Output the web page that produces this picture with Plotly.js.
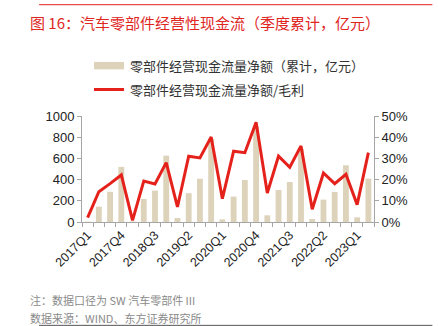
<!DOCTYPE html>
<html>
<head>
<meta charset="utf-8">
<script src="https://cdn.plot.ly/plotly-3.0.1.min.js"></script>
<style>
html,body{margin:0;padding:0;background:#fff;}
#chart{width:438px;height:326px;}
</style>
</head>
<body>
<div id="chart"></div>
<script>
// ---- data ----
const categories = [
  '2017Q1','2017Q2','2017Q3','2017Q4',
  '2018Q1','2018Q2','2018Q3','2018Q4',
  '2019Q1','2019Q2','2019Q3','2019Q4',
  '2020Q1','2020Q2','2020Q3','2020Q4',
  '2021Q1','2021Q2','2021Q3','2021Q4',
  '2022Q1','2022Q2','2022Q3','2022Q4',
  '2023Q1','2023Q2'
];
// 零部件经营现金流量净额（累计，亿元）
const cashFlow = [
  3, 145, 285, 520,
  5, 217, 296, 626,
  38, 272, 408, 785,
  25, 240, 396, 900,
  63, 302, 377, 690,
  28, 211, 283, 535,
  44, 409
];
// 零部件经营现金流量净额/毛利
const cashToGross = [
  0.021, 0.143, 0.181, 0.222,
  0.008, 0.193, 0.179, 0.280,
  0.071, 0.310, 0.302, 0.401,
  0.110, 0.334, 0.327, 0.470,
  0.137, 0.311, 0.258, 0.359,
  0.060, 0.231, 0.181, 0.225,
  0.082, 0.327
];
const tickLabels = categories.map((c, i) => (i % 3 === 0 ? c : ''));

const titleText = '图 16：汽车零部件经营性现金流（季度累计，亿元）';
const barName = '零部件经营现金流量净额（累计，亿元）';
const lineName = '零部件经营现金流量净额/毛利';
const note1 = '注：数据口径为 SW 汽车零部件 III';
const note2 = '数据来源：WIND、东方证券研究所';

const FONT = 'Liberation Sans, Arial, Noto Sans CJK SC, sans-serif';
const CJK = 'Noto Sans CJK SC, Liberation Sans, sans-serif';
const BAR_COLOR = '#ddd3bb';
const LINE_COLOR = '#e5211b';
const AXIS_COLOR = '#a6a6a6';

const traces = [
  {
    type: 'bar', x: categories, y: cashFlow, name: barName,
    marker: {color: BAR_COLOR}, yaxis: 'y', showlegend: false,
    hoverinfo: 'skip'
  },
  {
    type: 'scatter', mode: 'lines', x: categories, y: cashToGross, name: lineName,
    line: {color: LINE_COLOR, width: 3}, yaxis: 'y2', showlegend: false,
    hoverinfo: 'skip'
  }
];

const layout = {
  width: 438, height: 326,
  margin: {l: 82, r: 64, t: 116, b: 104},
  paper_bgcolor: '#fff', plot_bgcolor: '#fff',
  font: {family: FONT, size: 13, color: '#222'},
  bargap: 0.48,
  showlegend: false,
  xaxis: {
    type: 'category',
    tickmode: 'array', tickvals: categories, ticktext: tickLabels,
    tickson: 'boundaries', ticks: 'outside', ticklen: 4, tickcolor: AXIS_COLOR,
    tickangle: -45, tickfont: {size: 12.5, family: FONT, color: '#222'},
    showline: true, linecolor: AXIS_COLOR, linewidth: 1,
    showgrid: false, zeroline: false, fixedrange: true
  },
  yaxis: {
    range: [0, 1000], dtick: 200, tick0: 0,
    ticks: 'outside', ticklen: 4, tickcolor: AXIS_COLOR,
    showline: true, linecolor: AXIS_COLOR, linewidth: 1,
    showgrid: false, zeroline: false,
    tickfont: {size: 13, family: FONT, color: '#222'}
  },
  yaxis2: {
    overlaying: 'y', side: 'right',
    range: [0, 0.5], dtick: 0.1, tick0: 0, tickformat: '.0%',
    ticks: 'outside', ticklen: 4, tickcolor: AXIS_COLOR,
    showline: true, linecolor: AXIS_COLOR, linewidth: 1,
    showgrid: false, zeroline: false,
    tickfont: {size: 13, family: FONT, color: '#222'}
  },
  shapes: [
    // top red rule
    {type: 'line', xref: 'paper', yref: 'paper', x0: -0.147, x1: 1.2, y0: 2.05, y1: 2.05,
     line: {color: LINE_COLOR, width: 1}},
    // bottom gray rule
    {type: 'line', xref: 'paper', yref: 'paper', x0: -0.147, x1: 1.2, y0: -0.975, y1: -0.975,
     line: {color: '#555', width: 1}},
    // legend swatches
    {type: 'rect', xref: 'paper', yref: 'paper', x0: 0.041, x1: 0.144, y0: 1.44, y1: 1.51,
     fillcolor: BAR_COLOR, line: {width: 0}},
    {type: 'line', xref: 'paper', yref: 'paper', x0: 0.041, x1: 0.144, y0: 1.25, y1: 1.25,
     line: {color: LINE_COLOR, width: 3}}
  ],
  annotations: [
    {text: titleText, xref: 'paper', yref: 'paper', x: -0.184, y: 1.88,
     xanchor: 'left', yanchor: 'middle', showarrow: false,
     font: {family: CJK, size: 15, color: '#e0261f'}},
    {text: barName, xref: 'paper', yref: 'paper', x: 0.158, y: 1.475,
     xanchor: 'left', yanchor: 'middle', showarrow: false,
     font: {family: CJK, size: 13, color: '#333'}},
    {text: lineName, xref: 'paper', yref: 'paper', x: 0.158, y: 1.25,
     xanchor: 'left', yanchor: 'middle', showarrow: false,
     font: {family: CJK, size: 13, color: '#333'}},
    {text: note1, xref: 'paper', yref: 'paper', x: -0.184, y: -0.735,
     xanchor: 'left', yanchor: 'middle', showarrow: false,
     font: {family: CJK, size: 11, color: '#8a8a8a'}},
    {text: note2, xref: 'paper', yref: 'paper', x: -0.184, y: -0.91,
     xanchor: 'left', yanchor: 'middle', showarrow: false,
     font: {family: CJK, size: 11, color: '#8a8a8a'}}
  ]
};

Plotly.newPlot('chart', traces, layout, {displayModeBar: false, staticPlot: true});
</script>
</body>
</html>
